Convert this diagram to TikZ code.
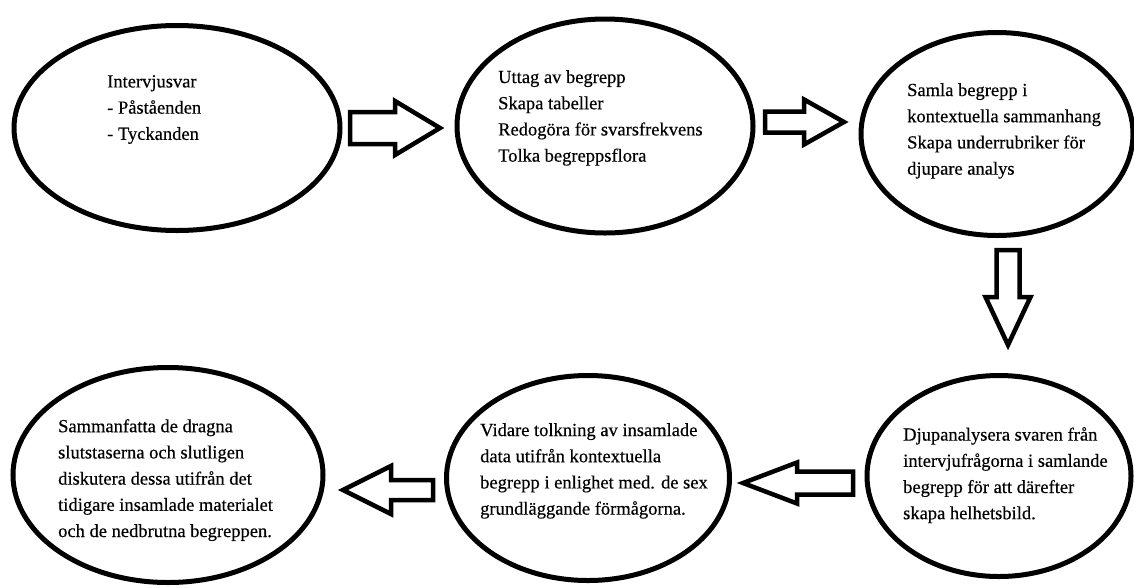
\documentclass[tikz,border=0pt]{standalone}
\usepackage{fontspec}
\setmainfont{Liberation Serif}
\newfontfamily\stagefont{Liberation Serif}[FakeBold=0.4]
\usepackage{tikz}
\usetikzlibrary{calc,shapes.geometric}

% block arrow: base, tip, shaft half width, head half width, head length
\newcommand{\blockarrow}[5]{%
  \coordinate (hb) at ($(#2)!#5!(#1)$);
  \draw[blk] ($(#1)!#3!90:(#2)$) -- ($(hb)!#3!90:(#2)$) -- ($(hb)!#4!90:(#2)$)
    -- (#2) -- ($(hb)!#4!-90:(#2)$) -- ($(hb)!#3!-90:(#2)$)
    -- ($(#1)!#3!-90:(#2)$) -- cycle;}

\begin{document}
\begin{tikzpicture}[
    x=1pt,y=-1pt,
    stage/.style={ellipse,draw=black,line width=5pt,inner sep=0pt},
    blk/.style={draw=black,line width=4.5pt,fill=white},
    txt/.style={anchor=north west,inner sep=0pt,align=left,
                font=\stagefont\fontsize{18.5}{26.2}\selectfont,
                execute at begin node={\rule{0pt}{15pt}}}
  ]
  \path[fill=white] (0,0) rectangle (1134,587);
  \useasboundingbox (0,0) rectangle (1134,587);

  % ellipses
  \node[stage,minimum width=326pt,minimum height=205pt] (intervju) at (177,128) {};
  \node[stage,minimum width=296pt,minimum height=214pt] (uttag)    at (605,126) {};
  \node[stage,minimum width=272pt,minimum height=203pt] (samla)    at (997,134) {};
  \node[stage,minimum width=264pt,minimum height=201pt] (djup)     at (999,476) {};
  \node[stage,minimum width=283pt,minimum height=205pt] (vidare)   at (588,478) {};
  \node[stage,minimum width=310pt,minimum height=215pt] (summa)    at (168,475) {};

  % texts
  \node[txt] (tIntervju) at (107,75) {Intervjusvar\\- Påståenden\\- Tyckanden};
  \node[txt] (tUttag) at (498,70) {Uttag av begrepp\\Skapa tabeller\\Redogöra för svarsfrekvens\\Tolka begreppsflora};
  \node[txt] (tSamla) at (907,83) {Samla begrepp i\\kontextuella sammanhang\\Skapa underrubriker för\\djupare analys};
  \node[txt] (tDjup) at (903,427) {Djupanalysera svaren från\\intervjufrågorna i samlande\\begrepp för att därefter\\skapa helhetsbild.};
  \node[txt] (tVidare) at (480,423) {Vidare tolkning av insamlade\\data utifrån kontextuella\\begrepp i enlighet med. de sex\\grundläggande förmågorna.};
  \node[txt] (tSumma) at (58,419) {Sammanfatta de dragna\\slutstaserna och slutligen\\diskutera dessa utifrån det\\tidigare insamlade materialet\\och de nedbrutna begreppen.};

  % arrows
  \coordinate (a1b) at (350,128);  \coordinate (a1t) at (440,128);
  \coordinate (a2b) at (765,122);  \coordinate (a2t) at (844,122);
  \coordinate (a3b) at (1008,250); \coordinate (a3t) at (1008,345);
  \coordinate (a4b) at (853,483);  \coordinate (a4t) at (743,483);
  \coordinate (a5b) at (433,490);  \coordinate (a5t) at (343,490);
  \blockarrow{a1b}{a1t}{16pt}{27pt}{45pt}
  \blockarrow{a2b}{a2t}{10.5pt}{22.5pt}{40pt}
  \blockarrow{a3b}{a3t}{11.5pt}{22.5pt}{48pt}
  \blockarrow{a4b}{a4t}{11.5pt}{20.5pt}{54pt}
  \blockarrow{a5b}{a5t}{10pt}{24pt}{48pt}
\end{tikzpicture}
\end{document}
